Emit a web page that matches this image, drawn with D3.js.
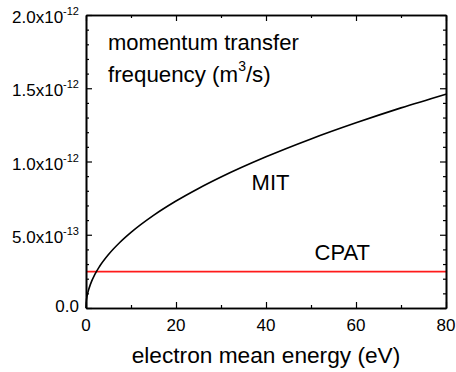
<!DOCTYPE html>
<html>
<head>
<meta charset="utf-8">
<script src="https://cdn.jsdelivr.net/npm/d3@7"></script>
<style>
  html, body { margin: 0; padding: 0; background: #fff; }
  svg { display: block; }
  text { font-family: "Liberation Sans", Arial, Helvetica, sans-serif; fill: #000; }
</style>
</head>
<body>
<svg id="chart" width="456" height="372"></svg>
<script>
// ---- data ----
const energy = [0, 0.05, 0.25, 0.5, 1, 2, 3, 5, 7.5, 10, 15, 20, 25, 30, 40, 50, 60, 70, 80];
const mitValues = [0, 0.037e-12, 0.082e-12, 0.115e-12, 0.163e-12, 0.231e-12, 0.283e-12, 0.365e-12,
  0.447e-12, 0.516e-12, 0.632e-12, 0.730e-12, 0.816e-12, 0.894e-12, 1.032e-12, 1.154e-12,
  1.264e-12, 1.366e-12, 1.460e-12];
const cpatEnergy = [0, 80];
const cpatValues = [2.48e-13, 2.48e-13];

const xTicks = [0, 20, 40, 60, 80];
const xMinorTicks = [10, 30, 50, 70];
const yTicks = [0, 5e-13, 1e-12, 1.5e-12, 2e-12];
const yTickMantissa = ["0.0", "5.0x10", "1.0x10", "1.5x10", "2.0x10"];
const yTickExponent = ["", "-13", "-12", "-12", "-12"];
const yMinorTicks = [1, 2, 3, 4, 6, 7, 8, 9, 11, 12, 13, 14, 16, 17, 18, 19].map(i => i * 1e-13);

const xTitle = "electron mean energy (eV)";

// ---- layout ----
const svg = d3.select("#chart");
const pLeft = 86, pRight = 446, pTop = 15, pBottom = 308;
const x = d3.scaleLinear().domain([0, 80]).range([pLeft, pRight]);
const y = d3.scaleLinear().domain([0, 2e-12]).range([pBottom, pTop]);

// ---- lines ----
const line = d3.line().x(d => x(d[0])).y(d => y(d[1])).curve(d3.curveMonotoneX);
svg.append("path")
  .datum(cpatEnergy.map((e, i) => [e, cpatValues[i]]))
  .attr("d", line).attr("fill", "none").attr("stroke", "#ff1a1a").attr("stroke-width", 1.8);
svg.append("path")
  .datum(energy.map((e, i) => [e, mitValues[i]]))
  .attr("d", line).attr("fill", "none").attr("stroke", "#000").attr("stroke-width", 1.6);

// ---- axes (inward ticks on all four sides) ----
function styleAxis(g) {
  g.selectAll("path.domain").attr("stroke", "#000").attr("stroke-width", 1.6);
  g.selectAll(".tick line").attr("stroke", "#000").attr("stroke-width", 1.2);
  g.selectAll(".tick text").remove();
}
const major = 6, minor = 3;
svg.append("g").attr("transform", `translate(0,${pBottom})`)
  .call(d3.axisBottom(x).tickValues(xTicks).tickSizeInner(-major).tickSizeOuter(0)).call(styleAxis);
svg.append("g").attr("transform", `translate(0,${pBottom})`)
  .call(d3.axisBottom(x).tickValues(xMinorTicks).tickSizeInner(-minor).tickSizeOuter(0)).call(styleAxis);
svg.append("g").attr("transform", `translate(0,${pTop})`)
  .call(d3.axisTop(x).tickValues(xTicks).tickSizeInner(-major).tickSizeOuter(0)).call(styleAxis);
svg.append("g").attr("transform", `translate(0,${pTop})`)
  .call(d3.axisTop(x).tickValues(xMinorTicks).tickSizeInner(-minor).tickSizeOuter(0)).call(styleAxis);
svg.append("g").attr("transform", `translate(${pLeft},0)`)
  .call(d3.axisLeft(y).tickValues(yTicks).tickSizeInner(-major).tickSizeOuter(0)).call(styleAxis);
svg.append("g").attr("transform", `translate(${pLeft},0)`)
  .call(d3.axisLeft(y).tickValues(yMinorTicks).tickSizeInner(-minor).tickSizeOuter(0)).call(styleAxis);
svg.append("g").attr("transform", `translate(${pRight},0)`)
  .call(d3.axisRight(y).tickValues(yTicks).tickSizeInner(-major).tickSizeOuter(0)).call(styleAxis);
svg.append("g").attr("transform", `translate(${pRight},0)`)
  .call(d3.axisRight(y).tickValues(yMinorTicks).tickSizeInner(-minor).tickSizeOuter(0)).call(styleAxis);

// ---- tick labels ----
svg.append("g").selectAll("text").data(xTicks).join("text")
  .attr("x", d => x(d)).attr("y", pBottom + 22.5)
  .attr("text-anchor", "middle").attr("font-size", 17).text(d => d);

const yl = svg.append("g").selectAll("text").data(yTicks).join("text")
  .attr("x", pLeft - 7)
  .attr("y", (d, i) => y(d) + (yTickExponent[i] ? 8 : 4))
  .attr("text-anchor", "end").attr("font-size", 17);
yl.append("tspan").text((d, i) => yTickMantissa[i]);
yl.append("tspan").attr("font-size", 11).attr("dy", (d, i) => yTickExponent[i] ? -8 : 0)
  .text((d, i) => yTickExponent[i]);

// ---- axis title ----
svg.append("text").attr("x", (pLeft + pRight) / 2).attr("y", 363)
  .attr("text-anchor", "middle").attr("font-size", 22.7).text(xTitle);

// ---- annotations ----
svg.append("text").attr("x", 108).attr("y", 49.5).attr("font-size", 22).text("momentum transfer");
const t2 = svg.append("text").attr("x", 108).attr("y", 81.5).attr("font-size", 22.3);
t2.append("tspan").text("frequency (m");
t2.append("tspan").attr("font-size", 14).attr("dy", -11).text("3");
t2.append("tspan").attr("dy", 11).text("/s)");

svg.append("text").attr("x", x(36.8)).attr("y", 190).attr("font-size", 22).text("MIT");
svg.append("text").attr("x", x(50.8)).attr("y", 260).attr("font-size", 22).text("CPAT");
</script>
</body>
</html>
